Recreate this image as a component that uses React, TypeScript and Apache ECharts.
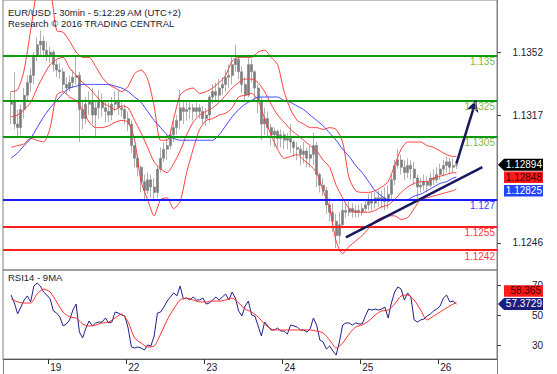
import React, { useEffect, useRef } from 'react';
import * as echarts from 'echarts';

const TITLE = 'EUR/USD - 30min - 5:12:29 AM (UTC+2)';
const SUBTITLE = 'Research © 2016 TRADING CENTRAL';
const RSI_TITLE = 'RSI14 - 9MA';

// time axis: trading days shown, hours shown per day, first hour per day
const DAYS = ['18', '19', '22', '23', '24', '25', '26'];
const DAY_HOURS = [14, 24, 24, 24, 24, 24, 18];
const DAY_FIRST_HOUR = [10, 0, 0, 0, 0, 0, 0];

const Y_TICKS = [1.1352, 1.1317, 1.1246];
const RSI_TICKS = [30, 50, 70];

// hourly bars from 18 12:00 (index 2) to 26 05:00: [open, close, low, high]
const FIRST_BAR = 2;
const OHLC = [
  [1.1323, 1.1325, 1.1312, 1.1330], [1.1325, 1.1312, 1.1309, 1.1341], [1.1312, 1.1310, 1.1305, 1.1320],
  [1.1310, 1.1320, 1.1306, 1.1323], [1.1320, 1.1328, 1.1315, 1.1332], [1.1328, 1.1335, 1.1325, 1.1339],
  [1.1335, 1.1339, 1.1330, 1.1343], [1.1339, 1.1350, 1.1334, 1.1352], [1.1350, 1.1356, 1.1347, 1.1360],
  [1.1356, 1.1358, 1.1350, 1.1364], [1.1358, 1.1353, 1.1349, 1.1361], [1.1353, 1.1350, 1.1347, 1.1358],
  [1.1350, 1.1352, 1.1346, 1.1355], [1.1352, 1.1345, 1.1341, 1.1353], [1.1345, 1.1342, 1.1338, 1.1348],
  [1.1342, 1.1341, 1.1337, 1.1346], [1.1341, 1.1334, 1.1330, 1.1343], [1.1334, 1.1332, 1.1328, 1.1338],
  [1.1332, 1.1335, 1.1330, 1.1339], [1.1335, 1.1338, 1.1332, 1.1342], [1.1338, 1.1339, 1.1334, 1.1350],
  [1.1339, 1.1320, 1.1302, 1.1341], [1.1320, 1.1315, 1.1309, 1.1325], [1.1315, 1.1323, 1.1312, 1.1327],
  [1.1323, 1.1325, 1.1317, 1.1330], [1.1325, 1.1317, 1.1312, 1.1332], [1.1317, 1.1321, 1.1304, 1.1325],
  [1.1321, 1.1325, 1.1315, 1.1331], [1.1325, 1.1321, 1.1316, 1.1329], [1.1321, 1.1319, 1.1313, 1.1325],
  [1.1319, 1.1317, 1.1313, 1.1324], [1.1317, 1.1323, 1.1314, 1.1327], [1.1323, 1.1325, 1.1319, 1.1330],
  [1.1325, 1.1321, 1.1317, 1.1331], [1.1321, 1.1320, 1.1316, 1.1324], [1.1320, 1.1315, 1.1312, 1.1323],
  [1.1315, 1.1312, 1.1308, 1.1319], [1.1312, 1.1300, 1.1296, 1.1314], [1.1300, 1.1293, 1.1288, 1.1300],
  [1.1293, 1.1288, 1.1283, 1.1295], [1.1288, 1.1280, 1.1274, 1.1289], [1.1280, 1.1275, 1.1269, 1.1284],
  [1.1275, 1.1281, 1.1273, 1.1285], [1.1281, 1.1277, 1.1271, 1.1284], [1.1277, 1.1274, 1.1270, 1.1282],
  [1.1274, 1.1287, 1.1271, 1.1289], [1.1287, 1.1293, 1.1285, 1.1299], [1.1293, 1.1298, 1.1291, 1.1302],
  [1.1298, 1.1300, 1.1292, 1.1306], [1.1300, 1.1306, 1.1298, 1.1309], [1.1306, 1.1310, 1.1302, 1.1314],
  [1.1310, 1.1314, 1.1306, 1.1317], [1.1314, 1.1321, 1.1309, 1.1331], [1.1321, 1.1319, 1.1312, 1.1325],
  [1.1319, 1.1320, 1.1314, 1.1324], [1.1320, 1.1321, 1.1315, 1.1325], [1.1321, 1.1319, 1.1314, 1.1323],
  [1.1319, 1.1321, 1.1316, 1.1324], [1.1321, 1.1319, 1.1315, 1.1323], [1.1319, 1.1315, 1.1312, 1.1322],
  [1.1315, 1.1317, 1.1311, 1.1321], [1.1317, 1.1327, 1.1313, 1.1328], [1.1327, 1.1330, 1.1323, 1.1334],
  [1.1330, 1.1328, 1.1324, 1.1335], [1.1328, 1.1332, 1.1325, 1.1337], [1.1332, 1.1334, 1.1328, 1.1338],
  [1.1334, 1.1338, 1.1330, 1.1342], [1.1338, 1.1339, 1.1332, 1.1345], [1.1339, 1.1345, 1.1334, 1.1350],
  [1.1345, 1.1348, 1.1341, 1.1356], [1.1348, 1.1341, 1.1337, 1.1350], [1.1341, 1.1334, 1.1329, 1.1344],
  [1.1334, 1.1328, 1.1324, 1.1338], [1.1328, 1.1345, 1.1327, 1.1350], [1.1345, 1.1341, 1.1335, 1.1348],
  [1.1341, 1.1332, 1.1325, 1.1342], [1.1332, 1.1325, 1.1318, 1.1334], [1.1325, 1.1312, 1.1303, 1.1327],
  [1.1312, 1.1315, 1.1306, 1.1321], [1.1315, 1.1310, 1.1305, 1.1319], [1.1310, 1.1306, 1.1300, 1.1312],
  [1.1306, 1.1308, 1.1299, 1.1310], [1.1308, 1.1304, 1.1299, 1.1309], [1.1304, 1.1306, 1.1299, 1.1309],
  [1.1306, 1.1303, 1.1298, 1.1308], [1.1303, 1.1304, 1.1298, 1.1307], [1.1304, 1.1302, 1.1296, 1.1312],
  [1.1302, 1.1299, 1.1294, 1.1303], [1.1299, 1.1298, 1.1292, 1.1302], [1.1298, 1.1295, 1.1289, 1.1300],
  [1.1295, 1.1297, 1.1290, 1.1302], [1.1297, 1.1293, 1.1288, 1.1299], [1.1293, 1.1295, 1.1288, 1.1300],
  [1.1295, 1.1300, 1.1289, 1.1307], [1.1300, 1.1284, 1.1277, 1.1302], [1.1284, 1.1278, 1.1274, 1.1285],
  [1.1278, 1.1275, 1.1272, 1.1282], [1.1275, 1.1267, 1.1262, 1.1277], [1.1267, 1.1263, 1.1258, 1.1271],
  [1.1263, 1.1258, 1.1252, 1.1268], [1.1258, 1.1250, 1.1243, 1.1262], [1.1250, 1.1256, 1.1245, 1.1263],
  [1.1256, 1.1264, 1.1254, 1.1270], [1.1264, 1.1263, 1.1260, 1.1268], [1.1263, 1.1265, 1.1261, 1.1269],
  [1.1265, 1.1263, 1.1260, 1.1268], [1.1263, 1.1264, 1.1260, 1.1267], [1.1264, 1.1263, 1.1260, 1.1267],
  [1.1263, 1.1265, 1.1261, 1.1268], [1.1265, 1.1267, 1.1263, 1.1270], [1.1267, 1.1270, 1.1264, 1.1273],
  [1.1270, 1.1268, 1.1264, 1.1274], [1.1268, 1.1271, 1.1265, 1.1274], [1.1271, 1.1270, 1.1266, 1.1275],
  [1.1270, 1.1271, 1.1265, 1.1275], [1.1271, 1.1269, 1.1264, 1.1277], [1.1269, 1.1273, 1.1265, 1.1278],
  [1.1273, 1.1281, 1.1270, 1.1284], [1.1281, 1.1289, 1.1278, 1.1292], [1.1289, 1.1292, 1.1287, 1.1298],
  [1.1292, 1.1288, 1.1284, 1.1295], [1.1288, 1.1285, 1.1281, 1.1292], [1.1285, 1.1289, 1.1282, 1.1293],
  [1.1289, 1.1287, 1.1281, 1.1292], [1.1287, 1.1282, 1.1278, 1.1291], [1.1282, 1.1277, 1.1270, 1.1284],
  [1.1277, 1.1278, 1.1274, 1.1282], [1.1278, 1.1280, 1.1275, 1.1284], [1.1280, 1.1278, 1.1274, 1.1283],
  [1.1278, 1.1282, 1.1277, 1.1285], [1.1282, 1.1281, 1.1278, 1.1287], [1.1281, 1.1284, 1.1279, 1.1288],
  [1.1284, 1.1287, 1.1281, 1.1290], [1.1287, 1.1289, 1.1283, 1.1292], [1.1289, 1.1291, 1.1285, 1.1294],
  [1.1291, 1.1288, 1.1284, 1.1293], [1.1288, 1.1289, 1.1285, 1.1293], [1.1289, 1.12894, 1.1287, 1.1292],
];

// indicator sample points (bar indices)
const BAND_IDX = [
  2, 4, 6, 8, 10, 12, 14, 16, 18, 20, 22, 24, 26, 28, 30, 32, 34, 36, 38, 40,
  42, 44, 46, 48, 50, 52, 54, 56, 58, 60, 62, 64, 66, 68, 70, 72, 74, 76, 78, 80,
  82, 84, 86, 88, 90, 92, 94, 96, 98, 100, 102, 104, 106, 108, 110, 112, 114, 116, 118, 120,
  122, 124, 126, 128, 130, 132, 134, 136, 138, 139,
];
const BB_UPPER = [
  1.1330, 1.1331, 1.1342, 1.1364, 1.1387, 1.1398, 1.1389, 1.1364, 1.1363, 1.1358,
  1.1352, 1.1349, 1.1349, 1.1344, 1.1338, 1.1334, 1.1332, 1.1330, 1.1333, 1.1340,
  1.1342, 1.1337, 1.1322, 1.1303, 1.1303, 1.1315, 1.1328, 1.1331, 1.1332, 1.1329,
  1.1330, 1.1332, 1.1335, 1.1339, 1.1347, 1.1349, 1.1349, 1.1349, 1.1352, 1.1353,
  1.1349, 1.1345, 1.1330, 1.1320, 1.1314, 1.1312, 1.1310, 1.1310, 1.1309, 1.1310,
  1.1309, 1.1302, 1.1282, 1.1275, 1.1274, 1.1274, 1.1275, 1.1277, 1.1280, 1.1289,
  1.1298, 1.1302, 1.1302, 1.1302, 1.1300, 1.1299, 1.1297, 1.1295, 1.1294, 1.1294,
];
const BB_MID = [
  1.1316, 1.1317, 1.1320, 1.1324, 1.1332, 1.1339, 1.1345, 1.1348, 1.1349, 1.1343,
  1.1339, 1.1335, 1.1332, 1.1328, 1.1324, 1.1322, 1.1320, 1.1322, 1.1321, 1.1314,
  1.1307, 1.1299, 1.1291, 1.1287, 1.1285, 1.1290, 1.1297, 1.1306, 1.1313, 1.1317,
  1.1319, 1.1321, 1.1324, 1.1328, 1.1332, 1.1335, 1.1337, 1.1337, 1.1335, 1.1330,
  1.1323, 1.1317, 1.1313, 1.1309, 1.1306, 1.1303, 1.1300, 1.1297, 1.1292, 1.1288,
  1.1278, 1.1271, 1.1265, 1.1263, 1.1263, 1.1263, 1.1264, 1.1266, 1.1267, 1.1270,
  1.1274, 1.1277, 1.1279, 1.1280, 1.1280, 1.1282, 1.1283, 1.1284, 1.1285, 1.12848,
];
const BB_LOWER = [
  1.1299, 1.1300, 1.1301, 1.1304, 1.1303, 1.1302, 1.1310, 1.1328, 1.1330, 1.1327,
  1.1325, 1.1320, 1.1313, 1.1310, 1.1310, 1.1311, 1.1313, 1.1314, 1.1313, 1.1303,
  1.1280, 1.1270, 1.1261, 1.1270, 1.1271, 1.1265, 1.1269, 1.1285, 1.1298, 1.1309,
  1.1314, 1.1315, 1.1317, 1.1318, 1.1321, 1.1327, 1.1328, 1.1329, 1.1325, 1.1315,
  1.1306, 1.1298, 1.1293, 1.1294, 1.1295, 1.1292, 1.1289, 1.1285, 1.1275, 1.1265,
  1.1247, 1.1240, 1.1244, 1.1247, 1.1250, 1.1254, 1.1258, 1.1260, 1.1261, 1.1261,
  1.1259, 1.1260, 1.1265, 1.1270, 1.1271, 1.1272, 1.1273, 1.1274, 1.1275, 1.1276,
];
const MA_BLUE = [
  1.1293, 1.1296, 1.1300, 1.1304, 1.1310, 1.1316, 1.1321, 1.1325, 1.1329, 1.1332,
  1.1333, 1.1334, 1.1334, 1.1334, 1.1334, 1.1334, 1.1333, 1.1332, 1.1330, 1.1327,
  1.1324, 1.1319, 1.1314, 1.1310, 1.1306, 1.1304, 1.1303, 1.1303, 1.1303, 1.1303,
  1.1303, 1.1303, 1.1306, 1.1311, 1.1316, 1.1320, 1.1323, 1.1325, 1.1327, 1.1327,
  1.1327, 1.1327, 1.1325, 1.1324, 1.1322, 1.1320, 1.1317, 1.1314, 1.1311, 1.1307,
  1.1303, 1.1298, 1.1294, 1.1289, 1.1285, 1.1280, 1.1275, 1.1272, 1.1270, 1.1270,
  1.1270, 1.1270, 1.1272, 1.1273, 1.1275, 1.1277, 1.1279, 1.1280, 1.1282, 1.12825,
];

// RSI14 per bar (from index 2) and its 9MA at sample points
const RSI = [
  63.3, 58, 50.7, 55.3, 60, 62.7, 58.7, 69.3, 71.3, 69.3,
  65.3, 63.3, 60.7, 52.7, 51.3, 48.7, 42.7, 44, 46.7, 53.3,
  57.3, 38.7, 34.7, 41.3, 46, 42.7, 44.7, 45.3, 45.3, 48,
  44.7, 45.3, 52, 51.3, 50, 49.3, 41.3, 28.7, 28, 28.7,
  28, 26.7, 30, 29.3, 36, 51.3, 52, 55.3, 59.3, 62,
  64.7, 62.7, 69.3, 60.7, 61.3, 60, 62, 60, 60, 61.3,
  57.3, 58, 60, 62, 60, 62, 64, 60, 65.3, 61.3,
  52.7, 49.3, 56, 59.3, 50, 49.3, 42.7, 36, 45.3, 42.7,
  40, 40, 41.3, 39.3, 39.3, 37.3, 43.3, 42.7, 42, 40,
  40, 38.7, 40.7, 48, 43.3, 33.3, 32, 27.3, 29.3, 26,
  23.3, 32, 43.3, 44.7, 44.7, 43.3, 44.7, 44, 44, 49.3,
  54, 53.3, 54, 53.3, 54, 55.3, 48, 58, 65.3, 68.7,
  67.3, 60, 64.7, 62, 46.7, 45.3, 46.7, 47.3, 49.3, 50.7,
  52.7, 54, 56, 61.3, 63.3, 58.7, 59.3, 57.3729,
];
const RSI_MA = [
  60.7, 58.7, 58, 58, 64, 67.3, 65.3, 58.7, 52, 48.7,
  48, 44, 42.7, 43.3, 44.7, 45.3, 48, 50.7, 45.3, 34.7,
  31.3, 28.7, 29.3, 37.3, 46.7, 54, 60, 61.3, 60, 58.7,
  58.7, 59.3, 59.3, 60, 61.3, 58, 54, 52, 48.7, 44,
  40.7, 40, 40, 40, 40, 40, 40, 39.3, 38, 33.3,
  28, 31.3, 37.3, 42, 43.3, 46, 50, 52.7, 53.3, 57.3,
  62.7, 63.3, 60, 53.3, 46.7, 49.3, 52, 54.7, 57.3, 58.365,
];

// horizontal levels
const LEVELS = [1.135, 1.1325, 1.1305, 1.127, 1.1255, 1.1242];
const LEVEL_TEXT = ['1.135', '1.1325', '1.1305', '1.127', '1.1255', '1.1242'];
const LEVEL_LINE = ['#0b990b', '#0b990b', '#0b990b', '#1a1aff', '#ff1e1e', '#ff1e1e'];
const LEVEL_LABEL = ['#7fb84a', '#7fb84a', '#7fb84a', '#3a3aff', '#ff3a3a', '#ff3a3a'];

// trend line and arrow: [barIndex, price]
const TREND = [[105, 1.1249], [147, 1.1288]];
const ARROW = [[139, 1.1290], [145, 1.1325]];

const LAST_CLOSE = 1.12894;
const MID_LAST = 1.12848;
const MA_LAST = 1.12825;
const RSI_LAST = 57.3729;
const RSI_MA_LAST = 58.365;

const FONT = 'Liberation Sans, Arial, sans-serif';
const DARK = '#1a1a33';

export default function App() {
  const ref = useRef<HTMLDivElement>(null);

  useEffect(() => {
    const el = ref.current;
    if (!el) return;
    const chart = echarts.init(el, null, { renderer: 'svg' });

    const cats: string[] = [];
    DAYS.forEach((d, k) => {
      for (let h = 0; h < DAY_HOURS[k]; h++) {
        const hh = DAY_FIRST_HOUR[k] + h;
        cats.push(d + ' ' + String(hh).padStart(2, '0') + ':00');
      }
    });
    const isDayStart = (i: number) => !!cats[i] && cats[i].endsWith(' 00:00');
    const empty = ['-', '-', '-', '-'];
    const candle = cats.map((_, i) => OHLC[i - FIRST_BAR] || empty);
    const wick = cats.map((_, i) => {
      const r = OHLC[i - FIRST_BAR];
      return r ? [r[2], r[3], r[2], r[3]] : empty;
    });
    const pairs = (vals: number[]) => BAND_IDX.map((ix, k) => [ix, vals[k]]);
    const rsiData = RSI.map((v, k) => [k + FIRST_BAR, v]);

    const bandLine = (name: string, vals: number[], color: string) => ({
      name,
      type: 'line',
      xAxisIndex: 0,
      yAxisIndex: 0,
      data: pairs(vals),
      showSymbol: false,
      symbol: 'none',
      smooth: 0.25,
      silent: true,
      lineStyle: { color, width: 1 },
    });

    const levelLines = LEVELS.map((v, k) => ({
      yAxis: v,
      symbol: 'none',
      lineStyle: { color: LEVEL_LINE[k], width: 2, type: 'solid' },
      label: {
        show: true,
        position: 'insideEndBottom',
        distance: [2, 1],
        formatter: LEVEL_TEXT[k],
        color: LEVEL_LABEL[k],
        fontSize: 10,
        fontFamily: FONT,
      },
    }));

    const option: any = {
      animation: false,
      backgroundColor: '#ffffff',
      textStyle: { fontFamily: FONT },
      grid: [
        { left: 3, right: 60, top: 0, height: 270, show: true, borderColor: '#808080', borderWidth: 1 },
        { left: 3, right: 60, top: 270, height: 89, show: true, borderColor: '#808080', borderWidth: 1 },
      ],
      xAxis: [
        {
          type: 'category', data: cats, gridIndex: 0, boundaryGap: true,
          axisLine: { show: false }, axisTick: { show: false }, axisLabel: { show: false }, splitLine: { show: false },
        },
        {
          type: 'category', data: cats, gridIndex: 1, boundaryGap: true,
          axisLine: { show: true, lineStyle: { color: '#555' } },
          axisTick: { show: true, interval: (i: number) => isDayStart(i), length: 5, lineStyle: { color: '#333' } },
          axisLabel: {
            interval: (i: number) => isDayStart(i),
            formatter: (v: string) => v.split(' ')[0],
            align: 'left', margin: 3, color: DARK, fontSize: 10, fontFamily: FONT,
          },
          splitLine: { show: false },
        },
      ],
      yAxis: [
        {
          type: 'value', gridIndex: 0, position: 'right', min: 1.12309, max: 1.13809,
          splitLine: { show: false },
          axisLine: { show: true, lineStyle: { color: '#808080' } },
          axisTick: { show: true, customValues: Y_TICKS, length: 4, lineStyle: { color: '#444' } },
          axisLabel: { customValues: Y_TICKS, align: 'right', margin: 46, color: DARK, fontSize: 10, fontFamily: FONT },
        },
        {
          type: 'value', gridIndex: 1, position: 'right', min: 20.67, max: 80,
          splitLine: { show: false },
          axisLine: { show: true, lineStyle: { color: '#808080' } },
          axisTick: { show: true, customValues: RSI_TICKS, length: 4, lineStyle: { color: '#444' } },
          axisLabel: { customValues: RSI_TICKS, align: 'right', margin: 46, color: DARK, fontSize: 10, fontFamily: FONT },
        },
      ],
      series: [
        {
          name: 'bars', type: 'candlestick', xAxisIndex: 0, yAxisIndex: 0, data: candle,
          barWidth: 2.3, silent: true,
          itemStyle: { color: '#7c7c7c', color0: '#7c7c7c', borderColor: '#7c7c7c', borderColor0: '#7c7c7c', borderWidth: 0.6 },
        },
        {
          name: 'wicks', type: 'candlestick', xAxisIndex: 0, yAxisIndex: 0, data: wick,
          barWidth: 0.9, silent: true,
          itemStyle: { color: '#151515', color0: '#151515', borderColor: '#151515', borderColor0: '#151515', borderWidth: 0 },
        },
        bandLine('upper', BB_UPPER, '#ff3c3c'),
        bandLine('lower', BB_LOWER, '#ff3c3c'),
        bandLine('mid', BB_MID, '#ff3c3c'),
        {
          ...bandLine('ma', MA_BLUE, '#4040ff'),
          markLine: {
            silent: true,
            symbol: ['none', 'none'],
            precision: 5,
            animation: false,
            data: [
              ...levelLines,
              [
                { coord: [cats[TREND[0][0]], TREND[0][1]], symbol: 'none', lineStyle: { color: '#18185e', width: 2.5, type: 'solid' }, label: { show: false } },
                { coord: [cats[TREND[1][0]], TREND[1][1]], symbol: 'none' },
              ],
              [
                { coord: [cats[ARROW[0][0]], ARROW[0][1]], symbol: 'none', lineStyle: { color: '#18185e', width: 2.5, type: 'solid' }, label: { show: false } },
                { coord: [cats[ARROW[1][0]], ARROW[1][1]], symbol: 'arrow', symbolSize: [9, 11] },
              ],
            ],
          },
        },
        {
          name: 'rsi', type: 'line', xAxisIndex: 1, yAxisIndex: 1, data: rsiData,
          showSymbol: false, symbol: 'none', silent: true,
          lineStyle: { color: '#20208c', width: 1 },
        },
        {
          name: 'rsiMa', type: 'line', xAxisIndex: 1, yAxisIndex: 1, data: BAND_IDX.map((ix, k) => [ix, RSI_MA[k]]),
          showSymbol: false, symbol: 'none', smooth: 0.25, silent: true,
          lineStyle: { color: '#ff2a2a', width: 1 },
        },
      ],
    };

    chart.setOption(option);

    const yP = (v: number) => chart.convertToPixel({ yAxisIndex: 0 }, v) as number;
    const yR = (v: number) => chart.convertToPixel({ yAxisIndex: 1 }, v) as number;
    const yBlack = yP(LAST_CLOSE);
    const yRed = yBlack + 12.5;
    const yBlue = yBlack + 26;
    const yNavy = yR(RSI_LAST);
    const yRsiRed = yNavy - 13;

    const txt = (x: number, y: number, text: string, fill: string, size: number, align = 'left', va = 'top', z = 101) => ({
      type: 'text', x, y, z, silent: true,
      style: { text, fill, fontSize: size, fontFamily: FONT, align, verticalAlign: va },
    });
    const pointer = (y: number, fill: string) => ({
      type: 'polygon', z: 100, silent: true,
      shape: { points: [[498, y], [504, y - 6], [543, y - 6], [543, y + 6], [504, y + 6]] },
      style: { fill },
    });
    const box = (y: number, fill: string) => ({
      type: 'rect', z: 100, silent: true,
      shape: { x: 504, y: y - 5.75, width: 39, height: 11.5 },
      style: { fill },
    });

    chart.setOption({
      graphic: [
        txt(8, 7.5, TITLE, DARK, 9.5),
        txt(8, 18.5, SUBTITLE, DARK, 9.5),
        txt(8, 272, RSI_TITLE, DARK, 9.5),
        { type: 'line', silent: true, z: 50, shape: { x1: 3.5, y1: 359, x2: 3.5, y2: 374 }, style: { stroke: '#808080', lineWidth: 1 } },
        { type: 'line', silent: true, z: 50, shape: { x1: 497.5, y1: 359, x2: 497.5, y2: 374 }, style: { stroke: '#808080', lineWidth: 1 } },
        pointer(yBlack, '#000000'),
        txt(542, yBlack, LAST_CLOSE.toFixed(5), '#ffffff', 10, 'right', 'middle'),
        box(yRed, '#ff1a1a'),
        txt(542, yRed, MID_LAST.toFixed(5), '#3a0000', 10, 'right', 'middle'),
        box(yBlue, '#2244ff'),
        txt(542, yBlue, MA_LAST.toFixed(5), '#ffffff', 10, 'right', 'middle'),
        box(yRsiRed, '#ff1a1a'),
        txt(541, yRsiRed, String(RSI_MA_LAST), '#3a0000', 10, 'right', 'middle'),
        pointer(yNavy, '#1c1c80'),
        txt(542, yNavy, String(RSI_LAST), '#ffffff', 10, 'right', 'middle'),
      ],
    });

    return () => chart.dispose();
  }, []);

  return <div ref={ref} style={{ position: 'fixed', left: 0, top: 0, width: 557, height: 374 }} />;
}
